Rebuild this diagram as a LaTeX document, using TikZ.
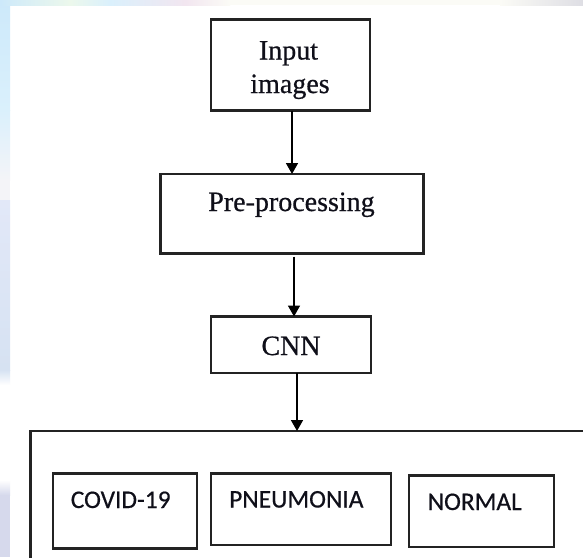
\documentclass[tikz,border=0pt]{standalone}
\usepackage{fontspec}
\setmainfont{Liberation Serif}[FakeBold=0.6]
\newfontfamily\classfont{Carlito}[FakeBold=0.5]
\usetikzlibrary{arrows.meta}

\definecolor{boxline}{RGB}{35,35,35}
\definecolor{inkdark}{RGB}{15,15,25}
\definecolor{skyA}{RGB}{205,233,250}
\definecolor{skyB}{RGB}{218,240,252}
\definecolor{paleA}{RGB}{244,244,248}
\definecolor{lavA}{RGB}{226,232,248}
\definecolor{lavB}{RGB}{214,226,242}
\definecolor{greyA}{RGB}{214,217,236}
\definecolor{greenA}{RGB}{236,248,236}
\definecolor{pinkA}{RGB}{242,230,240}
\definecolor{creamA}{RGB}{251,251,246}
\definecolor{greyB}{RGB}{222,222,228}

\begin{document}
\begin{tikzpicture}[x=1pt,y=-1pt,
  box/.style={draw=boxline, line width=2.2pt, inner sep=0pt, outer sep=0pt},
  serif/.style={font=\fontsize{28}{33}\selectfont, text=inkdark, inner sep=0pt},
  classlab/.style={font=\classfont\fontsize{25.4}{30}\selectfont, text=inkdark, inner sep=0pt, anchor=base west},
  flow/.style={line width=1.7pt, draw=black, -{Triangle[length=11pt,width=12pt]}}]

\useasboundingbox (0,0) rectangle (583,557);
\clip (0,0) rectangle (583,557);
\fill[white] (0,0) rectangle (583,557);

% pale backdrop strip along the left edge
\shade[top color=skyA, bottom color=skyB] (0,0) rectangle (10,110);
\shade[top color=skyB, bottom color=paleA] (0,110) rectangle (10,180);
\fill[paleA] (0,180) rectangle (10,200);
\shade[top color=lavA, bottom color=lavB] (0,200) rectangle (10,370);
\shade[top color=lavB, bottom color=white] (0,370) rectangle (10,385);
\shade[top color=white, bottom color=greyA] (0,480) rectangle (10,495);
\fill[greyA] (0,495) rectangle (10,557);

% pale backdrop strip along the top edge
\shade[left color=skyA, right color=greenA] (0,0) rectangle (70,5);
\shade[left color=greenA, right color=skyB] (70,0) rectangle (110,5);
\shade[left color=skyB, right color=pinkA] (110,0) rectangle (185,5);
\shade[left color=pinkA, right color=creamA] (185,0) rectangle (230,5);
\fill[creamA] (230,0) rectangle (500,5);
\shade[left color=creamA, right color=greyB] (500,0) rectangle (583,5);

% processing chain
\node[box, minimum width=159pt, minimum height=91pt] (in) at (290.5,65) {};
\node[box, minimum width=263pt, minimum height=79.5pt] (pre) at (292,213.75) {};
\node[box, minimum width=160pt, minimum height=56.5pt] (cnn) at (291,344.75) {};

\node[serif, anchor=base] (inA) at (288.5,59.5) {Input};
\node[serif, anchor=base] (inB) at (290,93) {images};
\node[serif, anchor=base] (preT) at (291.5,211) {Pre-processing};
\node[serif, anchor=base] (cnnT) at (291,355) {CNN};

% output classes
\node[box, minimum width=589.5pt, minimum height=169pt] (out) at (325.25,515.5) {};
\node[box, minimum width=144pt, minimum height=75pt] (covid) at (125,511) {};
\node[box, minimum width=180pt, minimum height=71.5pt] (pneu) at (301,509.25) {};
\node[box, minimum width=145pt, minimum height=71.5pt] (norm) at (481.5,511.25) {};

\node[classlab] (covidT) at (70.6,508) {COVID-19};
\node[classlab] (pneuT) at (229,507.5) {PNEUMONIA};
\node[classlab] (normT) at (427.5,510) {NORMAL};

% connectors
\draw[flow] ([xshift=1.5pt]in.south) -- ([xshift=1.5pt]in.south |- pre.north);
\draw[flow] ([xshift=2pt,yshift=-3pt]pre.south) -- ([xshift=2pt]pre.south |- cnn.north);
\draw[flow] ([xshift=6pt]cnn.south) -- ([xshift=6pt]cnn.south |- out.north);

\end{tikzpicture}
\end{document}
